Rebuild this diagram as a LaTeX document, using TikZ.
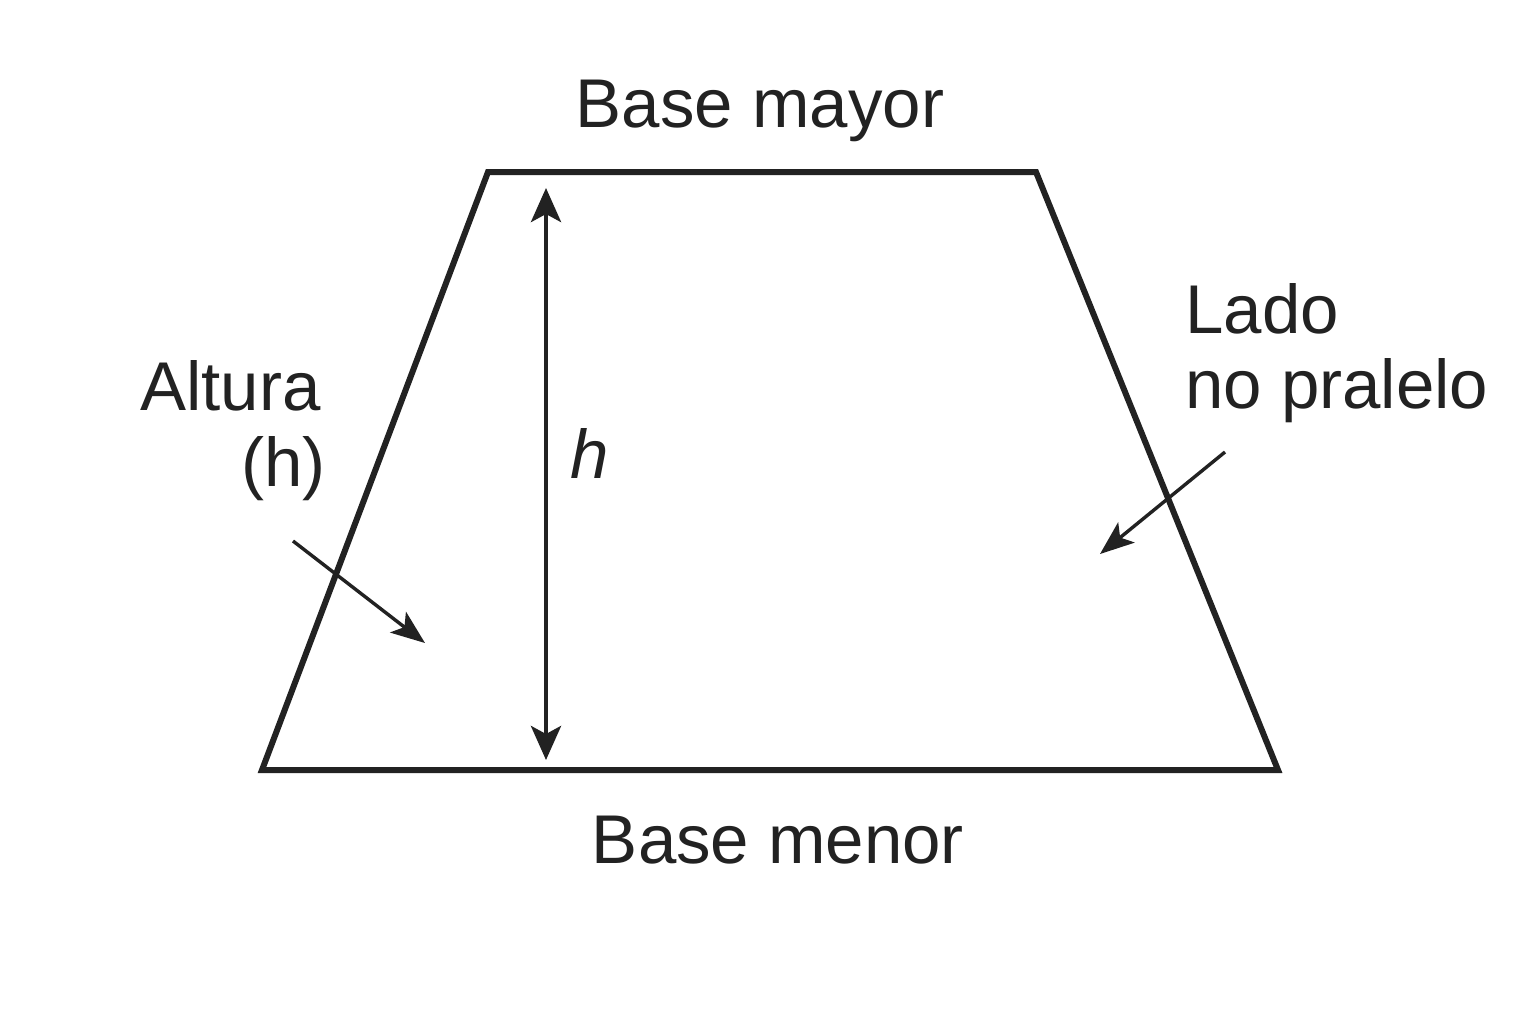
\documentclass[tikz,border=0pt]{standalone}
\usepackage{fontspec}
\setmainfont{Liberation Sans}
\usetikzlibrary{arrows.meta}
\definecolor{ink}{HTML}{222222}
\begin{document}
\begin{tikzpicture}[x=0.5pt,y=-0.5pt,
  lbl/.style={inner sep=0pt,text=ink,font=\fontsize{34.5}{40}\selectfont},
  edge/.style={draw=ink,line width=3pt,line join=miter},
  dim/.style={draw=ink,line width=2.3pt,{Stealth[length=17pt,width=15pt,inset=4pt]}-{Stealth[length=17pt,width=15pt,inset=4pt]}},
  ptr/.style={draw=ink,line width=1.7pt,-{Stealth[length=17pt,width=13pt,inset=4pt]}}]
\useasboundingbox (0,0) rectangle (1536,1024);
\fill[white] (0,0) rectangle (1536,1024);
\coordinate (TL) at (488,172);
\coordinate (TR) at (1036,172);
\coordinate (BR) at (1278,770);
\coordinate (BL) at (262,770);
\draw[edge] (TL) -- (TR) -- (BR) -- (BL) -- cycle;
\coordinate (hTop) at (546,188);
\coordinate (hBot) at (546,760);
\draw[dim] (hTop) -- (hBot);
\node[lbl,anchor=base west] (hl) at (570,478) {\itshape h};
\node[lbl,anchor=base] (bmay) at (760,127) {Base mayor};
\node[lbl,anchor=base] (bmen) at (778,863) {Base menor};
\node[lbl,anchor=base west] (alt) at (140,410) {Altura};
\node[lbl,anchor=base east] (alth) at (326,486) {(h)};
\node[lbl,anchor=base west] (lado) at (1185,333) {Lado};
\node[lbl,anchor=base west] (nopar) at (1185,408) {no pralelo};
\coordinate (a1s) at (293,541);
\coordinate (a1e) at (425,643);
\coordinate (a2s) at (1225,452);
\coordinate (a2e) at (1100,554);
\draw[ptr] (a1s) -- (a1e);
\draw[ptr] (a2s) -- (a2e);
\end{tikzpicture}
\end{document}
